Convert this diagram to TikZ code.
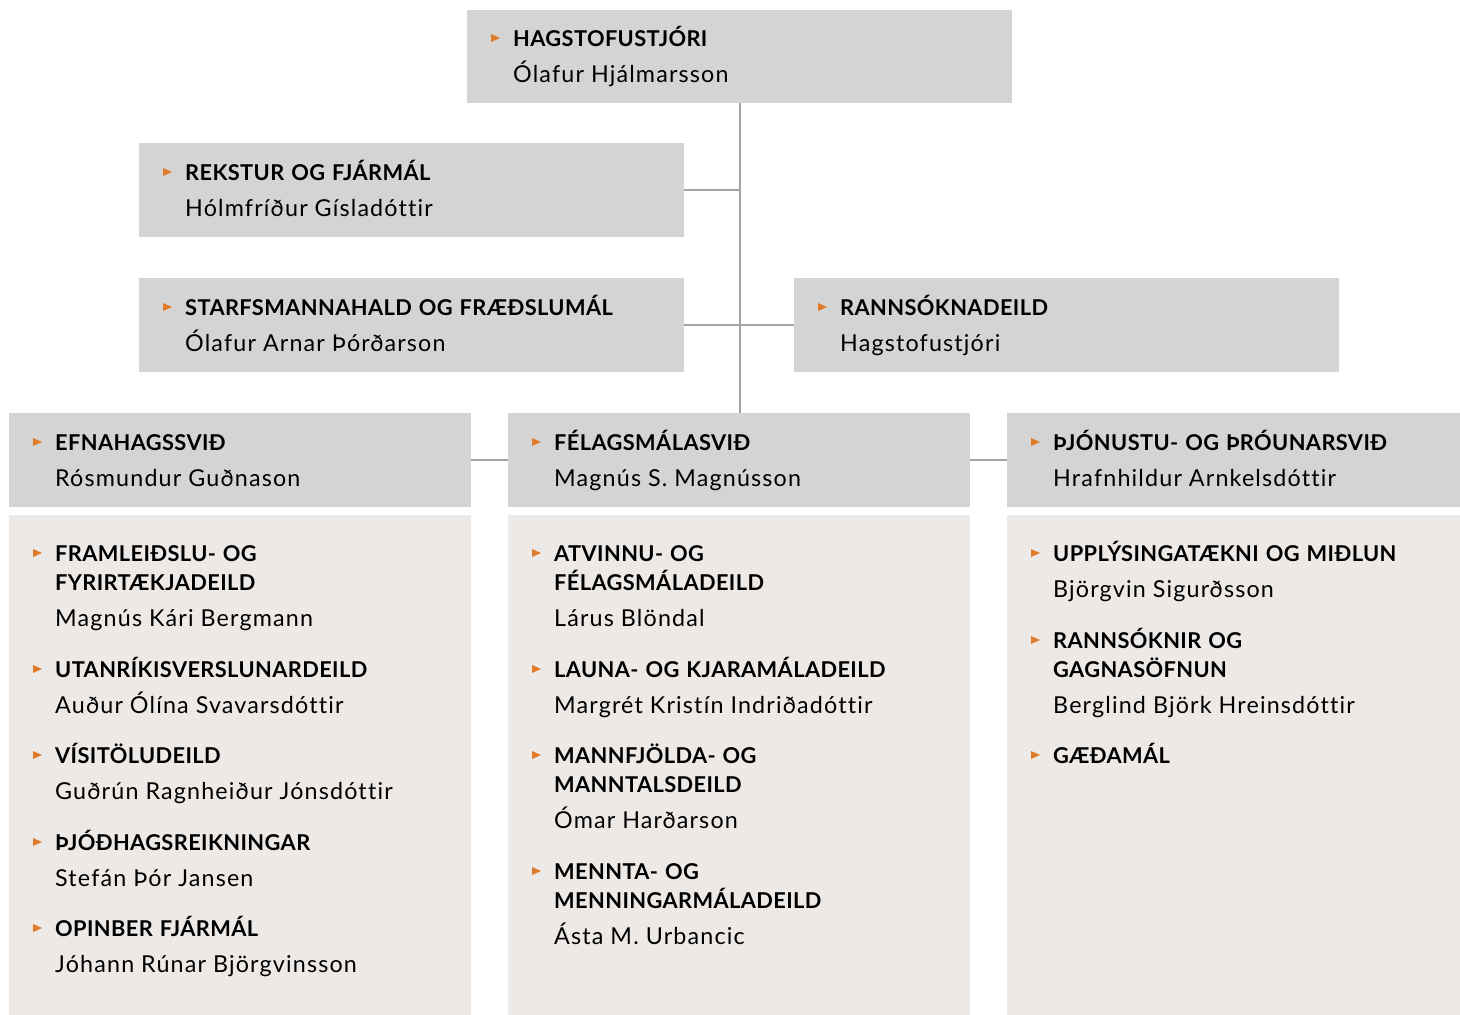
\documentclass[tikz,border=0pt]{standalone}
\usepackage{fontspec}
\setmainfont{Lato}
\newfontfamily\namefont[LetterSpace=5,Ligatures=NoCommon]{Lato}
\newfontfamily\titlefont[LetterSpace=1.8,Ligatures=NoCommon]{Lato Bold}
\usetikzlibrary{calc}
\definecolor{hdr}{HTML}{D4D4D4}
\definecolor{pnl}{HTML}{EDE9E6}
\definecolor{mk}{HTML}{E07B2A}
\definecolor{ln}{HTML}{A3A3A3}
\tikzset{
  box/.style={fill=hdr, draw=none, anchor=north west, inner sep=0, minimum height=94pt},
  panel/.style={fill=pnl, draw=none, anchor=north west, inner sep=0, minimum height=500pt},
  item/.style={anchor=base west, inner sep=0, align=left, text width=540pt, text=black,
    font=\fontsize{21}{29}\selectfont},
  conn/.style={draw=ln, line width=2pt},
}
\newcommand\ttl[1]{{\titlefont\fontsize{21.8}{29}\selectfont #1}}
\newcommand\nm[1]{{\namefont\fontsize{23.3}{29}\selectfont #1}}
\newcommand\tri[1]{\fill[mk] ($(#1.base west)+(-22,-12)$) -- ++(9,4) -- ++(-9,4) -- cycle;}
\begin{document}
\begin{tikzpicture}[x=1pt,y=-1pt]
\useasboundingbox (0,0) rectangle (1460,1015);
% boxes
\node[box, minimum width=545pt, minimum height=93pt] (top) at (467,10) {};
\node[box, minimum width=545pt] (rek) at (139,143) {};
\node[box, minimum width=545pt] (sta) at (139,278) {};
\node[box, minimum width=545pt] (ran) at (794,278) {};
\node[box, minimum width=462pt] (efn) at (9,413) {};
\node[box, minimum width=462pt] (fel) at (508,413) {};
\node[box, minimum width=453pt] (thj) at (1007,413) {};
\node[panel, minimum width=462pt] (p1) at (9,515) {};
\node[panel, minimum width=462pt] (p2) at (508,515) {};
\node[panel, minimum width=453pt] (p3) at (1007,515) {};
% connectors
\draw[conn] (top.south) -- (top.south |- fel.north);
\draw[conn] (rek.east) -- (rek.east -| top.south);
\draw[conn] (sta.east) -- (ran.west);
\draw[conn] (efn.east) -- (fel.west);
\draw[conn] (fel.east) -- (thj.west);
% header texts
\node[item] (tTop) at (513,46) {\ttl{HAGSTOFUSTJÓRI}\\[7pt]\nm{Ólafur Hjálmarsson}};
\node[item] (tRek) at (185,180) {\ttl{REKSTUR OG FJÁRMÁL}\\[7pt]\nm{Hólmfríður Gísladóttir}};
\node[item] (tSta) at (185,315) {\ttl{STARFSMANNAHALD OG FRÆÐSLUMÁL}\\[7pt]\nm{Ólafur Arnar Þórðarson}};
\node[item] (tRan) at (840,315) {\ttl{RANNSÓKNADEILD}\\[7pt]\nm{Hagstofustjóri}};
\node[item] (tEfn) at (55,450) {\ttl{EFNAHAGSSVIÐ}\\[7pt]\nm{Rósmundur Guðnason}};
\node[item] (tFel) at (554,450) {\ttl{FÉLAGSMÁLASVIÐ}\\[7pt]\nm{Magnús S. Magnússon}};
\node[item] (tThj) at (1053,450) {\ttl{ÞJÓNUSTU- OG ÞRÓUNARSVIÐ}\\[7pt]\nm{Hrafnhildur Arnkelsdóttir}};
% column 1
\node[item] (a1) at (55,561) {\ttl{FRAMLEIÐSLU- OG\\FYRIRTÆKJADEILD}\\[7pt]\nm{Magnús Kári Bergmann}};
\node[item] (a2) at (55,677) {\ttl{UTANRÍKISVERSLUNARDEILD}\\[7pt]\nm{Auður Ólína Svavarsdóttir}};
\node[item] (a3) at (55,763) {\ttl{VÍSITÖLUDEILD}\\[7pt]\nm{Guðrún Ragnheiður Jónsdóttir}};
\node[item] (a4) at (55,850) {\ttl{ÞJÓÐHAGSREIKNINGAR}\\[7pt]\nm{Stefán Þór Jansen}};
\node[item] (a5) at (55,936) {\ttl{OPINBER FJÁRMÁL}\\[7pt]\nm{Jóhann Rúnar Björgvinsson}};
% column 2
\node[item] (b1) at (554,561) {\ttl{ATVINNU- OG\\FÉLAGSMÁLADEILD}\\[7pt]\nm{Lárus Blöndal}};
\node[item] (b2) at (554,677) {\ttl{LAUNA- OG KJARAMÁLADEILD}\\[7pt]\nm{Margrét Kristín Indriðadóttir}};
\node[item] (b3) at (554,763) {\ttl{MANNFJÖLDA- OG\\MANNTALSDEILD}\\[7pt]\nm{Ómar Harðarson}};
\node[item] (b4) at (554,879) {\ttl{MENNTA- OG\\MENNINGARMÁLADEILD}\\[7pt]\nm{Ásta M. Urbancic}};
% column 3
\node[item] (c1) at (1053,561) {\ttl{UPPLÝSINGATÆKNI OG MIÐLUN}\\[7pt]\nm{Björgvin Sigurðsson}};
\node[item] (c2) at (1053,648) {\ttl{RANNSÓKNIR OG\\GAGNASÖFNUN}\\[7pt]\nm{Berglind Björk Hreinsdóttir}};
\node[item] (c3) at (1053,763) {\ttl{GÆÐAMÁL}};
% markers
\foreach \n in {tTop,tRek,tSta,tRan,tEfn,tFel,tThj,a1,a2,a3,a4,a5,b1,b2,b3,b4,c1,c2,c3}{\tri{\n}}
\end{tikzpicture}
\end{document}
